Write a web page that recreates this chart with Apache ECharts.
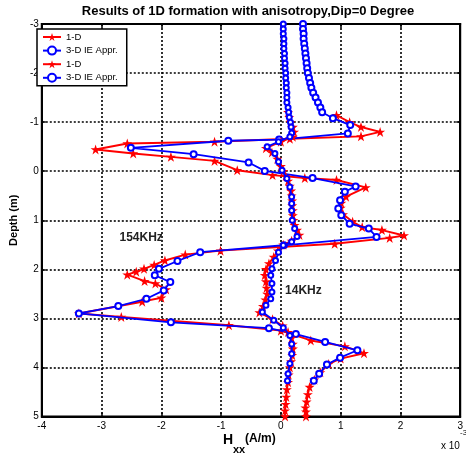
<!DOCTYPE html>
<html><head><meta charset="utf-8">
<script src="https://cdn.jsdelivr.net/npm/echarts@6/dist/echarts.min.js"></script>
<style>html,body{margin:0;padding:0;background:#fff}#c{width:466px;height:454px}</style>
</head><body><div id="c"></div>
<script>
// ---- data (Hxx in 1e-3 A/m, depth in m) ----
const xTicks = [-4,-3,-2,-1,0,1,2,3];
const yTicks = [-3,-2,-1,0,1,2,3,4,5];

const depth154_1D = [-1.14,-1.0,-0.9,-0.8,-0.71,-0.66,-0.6,-0.565,-0.443,-0.361,-0.292,-0.21,-0.02,0.08,0.14,0.18,0.33,0.52,0.65,0.75,0.88,1.03,1.14,1.2,1.31,1.36,1.48,1.62,1.7,1.82,1.91,1.99,2.05,2.11,2.24,2.29,2.41,2.58,2.66,2.9,2.97,3.14,3.25,3.45,3.57,3.71,3.82,3.93,4.1,4.25,4.4,4.55,4.7,4.82,4.9,5.0];
const hxx154_1D   = [0.93,1.15,1.34,1.66,1.34,0.15,-1.11,-2.57,-3.10,-2.47,-1.84,-1.11,-0.73,-0.14,0.4,0.93,1.42,1.09,1.01,1.0,1.04,1.2,1.36,1.69,2.06,1.82,0.9,-1.01,-1.6,-1.94,-2.12,-2.29,-2.42,-2.57,-2.28,-2.1,-1.92,-2.0,-2.32,-3.38,-2.67,-0.87,0.0,0.5,1.07,1.39,1.0,0.8,0.66,0.56,0.48,0.45,0.43,0.41,0.42,0.42];

const depth154_3D = [-3.0,-2.9,-2.8,-2.7,-2.6,-2.5,-2.4,-2.3,-2.2,-2.1,-2.0,-1.9,-1.8,-1.7,-1.6,-1.5,-1.4,-1.3,-1.2,-1.08,-0.94,-0.77,-0.645,-0.62,-0.476,-0.347,-0.178,-0.006,0.14,0.31,0.42,0.59,0.76,0.9,1.07,1.17,1.34,1.51,1.65,1.83,1.99,2.12,2.26,2.43,2.6,2.75,2.9,3.08,3.2,3.32,3.48,3.65,3.8,3.94,4.13,4.27];
const hxx154_3D   = [0.37,0.37,0.38,0.38,0.39,0.40,0.41,0.42,0.43,0.44,0.45,0.47,0.49,0.51,0.54,0.58,0.62,0.66,0.69,0.87,1.16,1.12,-0.03,-0.88,-2.51,-1.46,-0.54,-0.27,0.53,1.25,1.07,0.99,0.96,1.01,1.15,1.47,1.6,0.05,-1.35,-1.73,-2.04,-2.11,-1.85,-1.96,-2.25,-2.72,-3.38,-1.84,-0.2,0.25,0.74,1.28,0.99,0.77,0.64,0.55];

const depth14_1D = [-1.2,-1.1,-1.0,-0.9,-0.8,-0.7,-0.6,-0.47,-0.38,-0.25,-0.1,0.0,0.1,0.2,0.3,0.4,0.5,0.6,0.7,0.8,0.9,1.0,1.1,1.2,1.3,1.42,1.5,1.62,1.75,1.88,2.0,2.12,2.25,2.38,2.5,2.62,2.75,2.88,3.02,3.15,3.28,3.4,3.52,3.62,3.75,3.88,4.0,4.15,4.3,4.45,4.6,4.75,4.88,5.0];
const hxx14_1D   = [0.12,0.14,0.16,0.2,0.22,0.2,0.0,-0.25,-0.15,-0.06,0.0,0.04,0.08,0.12,0.15,0.17,0.18,0.19,0.19,0.2,0.2,0.21,0.23,0.27,0.31,0.18,0.04,-0.05,-0.12,-0.2,-0.25,-0.27,-0.25,-0.24,-0.23,-0.26,-0.3,-0.36,-0.14,0.03,0.12,0.18,0.2,0.2,0.19,0.17,0.15,0.13,0.12,0.1,0.09,0.08,0.07,0.07];

const depth14_3D = [-3.0,-2.9,-2.8,-2.7,-2.6,-2.5,-2.4,-2.3,-2.2,-2.1,-2.0,-1.9,-1.8,-1.7,-1.6,-1.5,-1.4,-1.3,-1.2,-1.1,-1.0,-0.9,-0.78,-0.7,-0.6,-0.5,-0.36,-0.19,-0.02,0.15,0.32,0.52,0.66,0.8,1.0,1.17,1.33,1.44,1.51,1.65,1.82,1.99,2.12,2.29,2.46,2.6,2.73,2.87,3.04,3.19,3.35,3.52,3.72,3.92,4.13,4.27];
const hxx14_3D   = [0.04,0.04,0.04,0.05,0.05,0.05,0.06,0.06,0.07,0.07,0.08,0.08,0.09,0.09,0.1,0.1,0.1,0.12,0.13,0.14,0.16,0.17,0.18,0.15,-0.04,-0.23,-0.1,-0.04,0.02,0.1,0.15,0.18,0.18,0.18,0.19,0.23,0.27,0.18,0.04,-0.04,-0.09,-0.15,-0.17,-0.15,-0.15,-0.17,-0.25,-0.31,-0.12,0.04,0.15,0.18,0.18,0.15,0.12,0.11];

const legendNames = ['1-D','3-D IE Appr.','1-D ','3-D IE Appr. '];
const annotations = [{text:'154KHz', x:-2.7, y:1.35}, {text:'14KHz', x:0.07, y:2.43}];

// ---- chart ----
const FONT = '"Liberation Sans", Arial, sans-serif';
const star = 'path://M50,0 L62,36 L100,36 L69,58 L81,95 L50,72 L19,95 L31,58 L0,36 L38,36 Z';
const pairs = (xs, ds) => xs.map((x, i) => [x, ds[i]]);
const RED = '#ff0000', BLUE = '#0000ff';

const chart = echarts.init(document.getElementById('c'), null, {renderer:'canvas'});
const gridLine = {show:true, lineStyle:{color:'#000', type:[2,2], width:1.6}};
const tick = {show:true, inside:true, length:4, lineStyle:{color:'#000', width:1.5}};
const axLine = {show:true, onZero:false, lineStyle:{color:'#000', width:2}};
const opt = {
  animation:false,
  backgroundColor:'#fff',
  grid:{left:31, right:3, top:24, bottom:37.5, show:true, borderColor:'#000', borderWidth:2, backgroundColor:'#fff'},
  xAxis:[{type:'value', min:xTicks[0], max:xTicks[xTicks.length-1], interval:1,
    axisLine:axLine, axisTick:tick,
    axisLabel:{color:'#000', fontFamily:FONT, fontSize:10, margin:5},
    splitLine:gridLine},
    {type:'value', position:'top', min:xTicks[0], max:xTicks[xTicks.length-1], interval:1,
    axisLine:axLine, axisTick:tick, axisLabel:{show:false}, splitLine:{show:false}}],
  yAxis:[{type:'value', inverse:true, min:yTicks[0], max:yTicks[yTicks.length-1], interval:1,
    name:'Depth (m)', nameLocation:'middle', nameRotate:90, nameGap:20,
    nameTextStyle:{color:'#000', fontFamily:FONT, fontSize:11, fontWeight:'bold'},
    axisLine:axLine, axisTick:tick,
    axisLabel:{color:'#000', fontFamily:FONT, fontSize:10, margin:3},
    splitLine:gridLine},
    {type:'value', position:'right', inverse:true, min:yTicks[0], max:yTicks[yTicks.length-1], interval:1,
    axisLine:axLine, axisTick:tick, axisLabel:{show:false}, splitLine:{show:false}}],
  legend:{data:legendNames, orient:'vertical', left:37, top:29, padding:[3,9,3,5], itemGap:3.6,
    itemWidth:18, itemHeight:10, borderColor:'#000', borderWidth:1.5, borderRadius:0, backgroundColor:'#fff',
    formatter: n => n.trim(),
    textStyle:{color:'#000', fontFamily:FONT, fontSize:9.5}},
  series:[
    {type:'line', name:legendNames[0], data:pairs(hxx154_1D, depth154_1D), symbol:star, symbolSize:10,
      itemStyle:{color:RED}, lineStyle:{color:RED, width:1.9}, z:2},
    {type:'line', name:legendNames[1], data:pairs(hxx154_3D, depth154_3D), symbol:'emptyCircle', symbolSize:6,
      itemStyle:{color:BLUE, borderWidth:1.5}, lineStyle:{color:BLUE, width:1.8}, z:3},
    {type:'line', name:legendNames[2], data:pairs(hxx14_1D, depth14_1D), symbol:star, symbolSize:10,
      itemStyle:{color:RED}, lineStyle:{color:RED, width:1.9}, z:4},
    {type:'line', name:legendNames[3], data:pairs(hxx14_3D, depth14_3D), symbol:'emptyCircle', symbolSize:5,
      itemStyle:{color:BLUE, borderWidth:1.8}, lineStyle:{color:BLUE, width:1.8}, z:5}
  ]
};
chart.setOption(opt);

const g = [];
g.push({type:'text', x:248, y:11, style:{text:'Results of 1D formation with anisotropy,Dip=0 Degree',
  font:'bold 13px '+FONT, fill:'#000', textAlign:'center', textVerticalAlign:'middle'}});
g.push({type:'text', x:223, y:433, style:{text:'H', font:'bold 14px '+FONT, fill:'#000', textAlign:'left', textVerticalAlign:'top'}});
g.push({type:'text', x:233, y:444, style:{text:'xx', font:'bold 11px '+FONT, fill:'#000', textAlign:'left', textVerticalAlign:'top'}});
g.push({type:'text', x:245, y:433, style:{text:'(A/m)', font:'bold 12px '+FONT, fill:'#000', textAlign:'left', textVerticalAlign:'top'}});
g.push({type:'text', x:441, y:446, style:{text:'x 10', font:'10px '+FONT, fill:'#000', textAlign:'left', textVerticalAlign:'middle'}});
g.push({type:'text', x:460, y:433, style:{text:'-3', font:'8px '+FONT, fill:'#000', textAlign:'left', textVerticalAlign:'middle'}});
annotations.forEach(a => {
  const p = chart.convertToPixel({xAxisIndex:0, yAxisIndex:0}, [a.x, a.y]);
  g.push({type:'text', x:p[0], y:p[1], z:10, style:{text:a.text, font:'bold 12px '+FONT, fill:'#222', textAlign:'left', textVerticalAlign:'middle'}});
});
chart.setOption({graphic:g});
</script></body></html>
